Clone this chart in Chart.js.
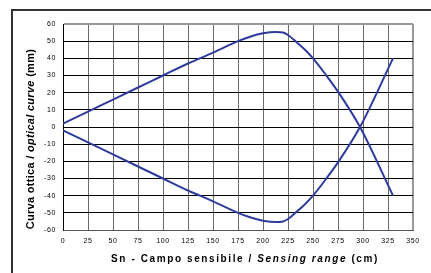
<!DOCTYPE html>
<html>
<head>
<meta charset="utf-8">
<script src="https://cdn.jsdelivr.net/npm/chart.js@4.4.1/dist/chart.umd.min.js"></script>
<style>
  html, body { margin: 0; padding: 0; background: #fff; }
  #wrap { position: relative; width: 431px; height: 273px; }
</style>
</head>
<body>
<div id="wrap"><canvas id="curveChart" width="431" height="273"></canvas></div>
<script>
// campo sensibile (cm) e curva ottica (mm)
const rangeCm = [0, 25, 50, 75, 100, 125, 150, 175, 187, 200, 213, 220, 225, 233, 242, 250, 263, 275, 297, 330];
const upperMm = [2, 9, 16, 23, 30, 37, 43.3, 50, 52.6, 54.6, 55.4, 55, 53.6, 49.7, 45, 40, 30.3, 20.6, 0, -40];
const lowerMm = [-2, -9, -16, -23, -30, -37, -43.3, -50, -52.6, -54.6, -55.4, -55, -53.6, -49.7, -45, -40, -30.3, -20.6, 0, 40];
const xTicks = [0, 25, 50, 75, 100, 125, 150, 175, 200, 225, 250, 275, 300, 325, 350];
const yTicks = [60, 50, 40, 30, 20, 10, 0, -10, -20, -30, -40, -50, -60];

const lineColor = '#2e3d9c';

function toPoints(ys) {
    return rangeCm.map((x, i) => ({ x: x, y: ys[i] }));
}

function drawParts(ctx, parts, x, y) {
    parts.forEach(p => {
        ctx.font = p[0];
        ctx.fillText(p[1], x, y);
        x += ctx.measureText(p[1]).width;
    });
}

function partsWidth(ctx, parts) {
    let w = 0;
    parts.forEach(p => { ctx.font = p[0]; w += ctx.measureText(p[1]).width; });
    return w;
}

// cornice esterna + titoli degli assi (testo misto normale/corsivo)
const decorPlugin = {
    id: 'decor',
    beforeDraw(chart) {
        const ctx = chart.ctx;
        ctx.save();
        ctx.fillStyle = '#fff';
        ctx.fillRect(0, 0, chart.width, chart.height);
        ctx.strokeStyle = '#333';
        ctx.lineWidth = 2;
        ctx.beginPath();
        ctx.moveTo(12, chart.height);
        ctx.lineTo(12, 10);
        ctx.lineTo(chart.width, 10);
        ctx.stroke();
        ctx.restore();
        ctx.letterSpacing = '0.6px';
    },
    afterDraw(chart) {
        const ctx = chart.ctx;
        const bold = 'bold 10px "Liberation Sans", Arial, sans-serif';
        const boldIt = 'italic bold 10px "Liberation Sans", Arial, sans-serif';
        ctx.save();
        ctx.fillStyle = '#000';
        ctx.textBaseline = 'middle';

        // titolo asse x
        ctx.letterSpacing = '1.6px';
        const xParts = [[bold, 'Sn - Campo sensibile / '], [boldIt, 'Sensing range'], [bold, ' (cm)']];
        drawParts(ctx, xParts, 245 - partsWidth(ctx, xParts) / 2, 259);

        // titolo asse y
        ctx.letterSpacing = '0.3px';
        const b11 = bold.replace('10px', '11px');
        const bi11 = boldIt.replace('10px', '11px');
        const yParts = [[b11, 'Curva ottica / '], [bi11, 'optical curve'], [b11, ' (mm)']];
        const w = partsWidth(ctx, yParts);
        ctx.translate(31, 139);
        ctx.rotate(-Math.PI / 2);
        drawParts(ctx, yParts, -w / 2, 0);
        ctx.restore();
    }
};

const ctx = document.getElementById('curveChart').getContext('2d');
new Chart(ctx, {
    type: 'scatter',
    data: {
        datasets: [{
            data: toPoints(upperMm),
            showLine: true,
            borderColor: lineColor,
            borderWidth: 2,
            pointRadius: 0,
            cubicInterpolationMode: 'monotone'
        }, {
            data: toPoints(lowerMm),
            showLine: true,
            borderColor: lineColor,
            borderWidth: 2,
            pointRadius: 0,
            cubicInterpolationMode: 'monotone'
        }]
    },
    options: {
        responsive: false,
        animation: false,
        layout: { padding: { left: 0, right: 18, top: 24, bottom: 0 } },
        plugins: {
            legend: { display: false },
            tooltip: { enabled: false }
        },
        scales: {
            x: {
                type: 'linear',
                min: 0,
                max: 350,
                afterFit: s => { s.height = 43; },
                afterBuildTicks: s => { s.ticks = xTicks.map(v => ({ value: v })); },
                grid: {
                    color: ctx => ctx.tick && ctx.tick.value === 350 ? '#999' : '#6a6a6a',
                    lineWidth: ctx => ctx.tick && ctx.tick.value === 350 ? 2 : 1,
                    drawTicks: false
                },
                border: { color: '#555', width: 1 },
                ticks: {
                    padding: 7,
                    color: '#000',
                    maxRotation: 0,
                    autoSkip: false,
                    font: { family: '"Liberation Sans", Arial, sans-serif', size: 7 }
                }
            },
            y: {
                min: -60,
                max: 60,
                afterFit: s => { s.width = 63; },
                afterBuildTicks: s => { s.ticks = yTicks.map(v => ({ value: v })); },
                grid: {
                    color: ctx => ctx.tick && ctx.tick.value === 60 ? '#999' : '#000',
                    lineWidth: ctx => ctx.tick && ctx.tick.value === 60 ? 2 : 1,
                    drawTicks: false
                },
                border: { color: '#000', width: 1 },
                ticks: {
                    padding: 7,
                    color: '#000',
                    autoSkip: false,
                    font: { family: '"Liberation Sans", Arial, sans-serif', size: 7 }
                }
            }
        }
    },
    plugins: [decorPlugin]
});
</script>
</body>
</html>
